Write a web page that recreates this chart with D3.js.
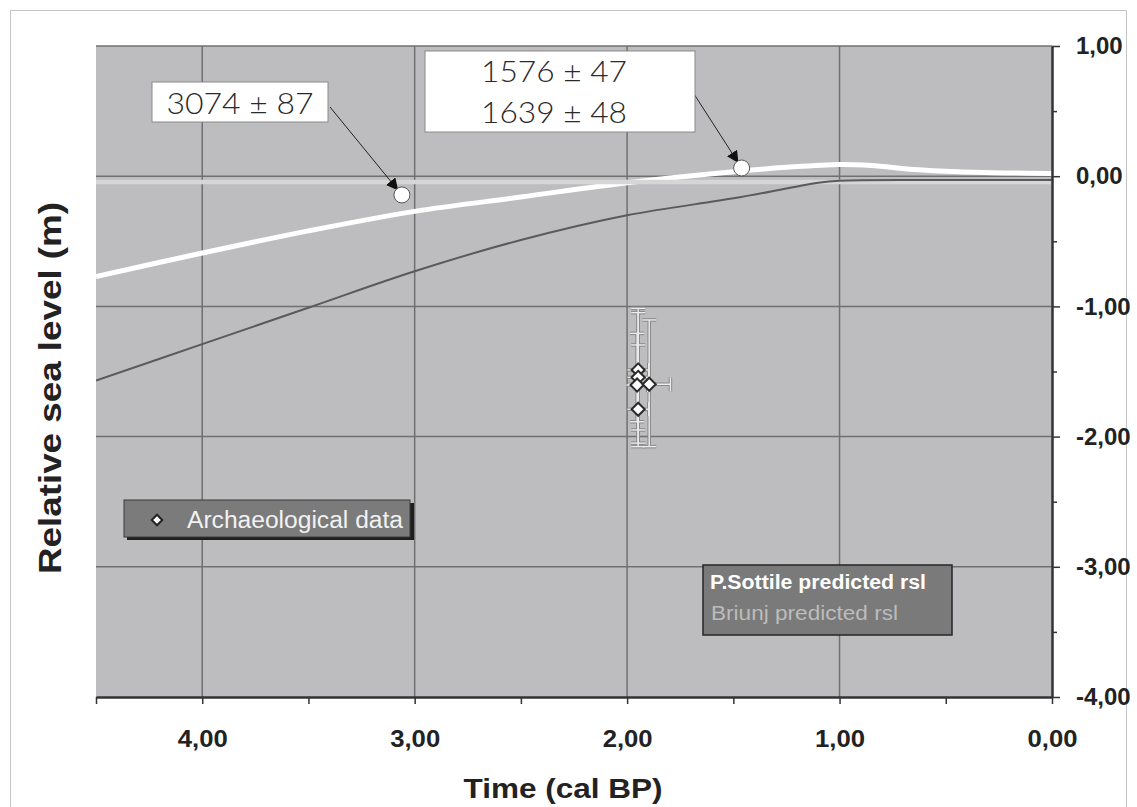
<!DOCTYPE html>
<html>
<head>
<meta charset="utf-8">
<script src="https://cdn.jsdelivr.net/npm/d3@7/dist/d3.min.js"></script>
<style>
  html, body { margin: 0; padding: 0; background: #fff; }
  svg { display: block; }
</style>
</head>
<body>
<svg id="chart" width="1137" height="807"></svg>
<script>
// ---------------- DATA ----------------
const xTickValues = [4, 3, 2, 1, 0];
const xTickLabels = ["4,00", "3,00", "2,00", "1,00", "0,00"];
const xMinorTicks = [4.5, 3.5, 2.5, 1.5, 0.5];
const yTickValues = [1, 0, -1, -2, -3, -4];
const yTickLabels = ["1,00", "0,00", "-1,00", "-2,00", "-3,00", "-4,00"];
const yMinorTicks = [0.5, -0.5, -1.5, -2.5, -3.5];

// P.Sottile predicted rsl (thick white curve)
const sottileTime = [4.5, 4.0, 3.5, 3.0, 2.5, 2.0, 1.5, 1.25, 1.0, 0.85, 0.65, 0.44, 0.2, 0.0];
const sottileLevel = [-0.77, -0.59, -0.42, -0.27, -0.16, -0.05, 0.035, 0.068, 0.09, 0.082, 0.052, 0.035, 0.025, 0.02];

// Briunj predicted rsl (light horizontal line)
const briunjTime = [4.5, 0.0];
const briunjLevel = [-0.045, -0.045];

// thin dark model curve
const modelTime = [4.5, 4.0, 3.5, 3.0, 2.5, 2.0, 1.5, 1.25, 1.1, 1.0, 0.5, 0.0];
const modelLevel = [-1.57, -1.29, -1.01, -0.73, -0.49, -0.30, -0.17, -0.095, -0.05, -0.035, -0.03, -0.03];

// Archaeological data
const archTime = [1.948, 1.948, 1.953, 1.896, 1.948];
const archLevel = [-1.488, -1.545, -1.604, -1.598, -1.79];
const archLevelHigh = [-1.015, -1.048, -1.207, -1.104, -1.296];
const archLevelLow = [-1.949, -2.05, -1.886, -2.077, -2.077];
const archTimeErr = [0.05, 0.05, 0.05, 0.1, 0.05];

// Dated samples (annotation circles)
const datedTime = [3.06, 1.461];
const datedLevel = [-0.144, 0.063];
const datedLabels = [["3074 \u00B1 87"], ["1576 \u00B1 47", "1639 \u00B1 48"]];

const xTitle = "Time (cal BP)";
const yTitle = "Relative sea level (m)";
const legendArch = "Archaeological data";
const legendSottile = "P.Sottile predicted rsl";
const legendBriunj = "Briunj predicted rsl";

// ---------------- LAYOUT ----------------
const svg = d3.select("#chart");
const L = 96, R = 1052, T = 46, B = 697;
const x = d3.scaleLinear().domain([4.5, 0]).range([L, R]);
const y = d3.scaleLinear().domain([-4, 1]).range([B, T]);
const sans = "'Liberation Sans', Arial, sans-serif";
const light = "Lato, 'Open Sans', sans-serif";

// figure border
svg.append("path").attr("d", `M10.5,807 V10.5 H1126.5 V807`)
  .attr("fill", "none").attr("stroke", "#c4c4c4").attr("stroke-width", 1);

svg.append("defs").append("clipPath").attr("id", "clip")
  .append("rect").attr("x", L).attr("y", T).attr("width", R - L).attr("height", B - T);

svg.append("rect").attr("x", L).attr("y", T).attr("width", R - L).attr("height", B - T)
  .attr("fill", "#bdbdbf");

// grid
const grid = svg.append("g");
grid.selectAll("line.v").data(xTickValues.filter(d => d !== 0)).join("line")
  .attr("x1", d => x(d)).attr("x2", d => x(d)).attr("y1", T).attr("y2", B)
  .attr("stroke", "#707070").attr("stroke-width", 1.5);
grid.selectAll("line.h").data(yTickValues.filter(d => d !== -4)).join("line")
  .attr("x1", L).attr("x2", R).attr("y1", d => y(d)).attr("y2", d => y(d))
  .attr("stroke", "#707070").attr("stroke-width", 1.5);

const plot = svg.append("g").attr("clip-path", "url(#clip)");
const line = d3.line().x(d => x(d[0])).y(d => y(d[1])).curve(d3.curveCatmullRom.alpha(0.5));

plot.append("path").datum(d3.zip(sottileTime, sottileLevel)).attr("d", line)
  .attr("fill", "none").attr("stroke", "#ffffff").attr("stroke-width", 5);
plot.append("path").datum(d3.zip(briunjTime, briunjLevel)).attr("d", d3.line().x(d => x(d[0])).y(d => y(d[1])))
  .attr("fill", "none").attr("stroke", "#d6d6d6").attr("stroke-width", 4.5);
plot.append("path").datum(d3.zip(modelTime, modelLevel)).attr("d", line)
  .attr("fill", "none").attr("stroke", "#5a5a5a").attr("stroke-width", 2);

// error bars
const arch = archTime.map((t, i) => ({ t, v: archLevel[i], hi: archLevelHigh[i], lo: archLevelLow[i], xe: archTimeErr[i] }));
const eb = plot.append("g");
[["#8a8a8a", 3.5], ["#ececec", 1.4]].forEach(([col, w]) => {
  const g = eb.append("g").attr("stroke", col).attr("stroke-width", w).attr("fill", "none");
  arch.forEach(d => {
    const cx = x(d.t);
    g.append("line").attr("x1", cx).attr("x2", cx).attr("y1", y(d.hi)).attr("y2", y(d.lo));
    g.append("line").attr("x1", cx - 7).attr("x2", cx + 7).attr("y1", y(d.hi)).attr("y2", y(d.hi));
    g.append("line").attr("x1", cx - 7).attr("x2", cx + 7).attr("y1", y(d.lo)).attr("y2", y(d.lo));
    g.append("line").attr("x1", x(d.t + d.xe)).attr("x2", x(d.t - d.xe)).attr("y1", y(d.v)).attr("y2", y(d.v));
    g.append("line").attr("x1", x(d.t - d.xe)).attr("x2", x(d.t - d.xe)).attr("y1", y(d.v) - 7).attr("y2", y(d.v) + 7);
  });
});
// diamonds
const diamond = d3.symbol().type(d3.symbolDiamond2).size(110);
plot.selectAll("path.arch").data(arch).join("path").attr("class", "arch")
  .attr("d", diamond)
  .attr("transform", d => `translate(${x(d.t)},${y(d.v)})`)
  .attr("fill", "#ffffff").attr("stroke", "#2a2a2a").attr("stroke-width", 2);

// annotations
const defs = svg.select("defs");
defs.append("marker").attr("id", "arrow").attr("viewBox", "0 0 10 10")
  .attr("refX", 9).attr("refY", 5).attr("markerWidth", 12).attr("markerHeight", 12)
  .attr("markerUnits", "userSpaceOnUse").attr("orient", "auto")
  .append("path").attr("d", "M0,0 L10,5 L0,10 z").attr("fill", "#111");

const boxes = [
  { x: 152, y: 82, w: 176, h: 40, ax: 330, ay: 107, tx: 240, lines: [113.5], len: 147 },
  { x: 425, y: 51, w: 270, h: 81, ax: 694, ay: 94, tx: 554, lines: [82, 123], len: 146 }
];
datedTime.forEach((t, i) => {
  const b = boxes[i];
  const cx = x(t), cy = y(datedLevel[i]);
  const dx = cx - b.ax, dy = cy - b.ay, len = Math.hypot(dx, dy);
  svg.append("line").attr("x1", b.ax).attr("y1", b.ay)
    .attr("x2", b.ax + dx * (len - 7) / len).attr("y2", b.ay + dy * (len - 7) / len)
    .attr("stroke", "#222").attr("stroke-width", 1).attr("marker-end", "url(#arrow)");
  svg.append("circle").attr("cx", cx).attr("cy", cy).attr("r", 8)
    .attr("fill", "#ffffff").attr("stroke", "#555").attr("stroke-width", 1);
  svg.append("rect").attr("x", b.x).attr("y", b.y).attr("width", b.w).attr("height", b.h)
    .attr("fill", "#ffffff").attr("stroke", "#8a8a8a").attr("stroke-width", 1);
  datedLabels[i].forEach((s, j) => {
    svg.append("text").attr("x", b.tx).attr("y", b.lines[j]).attr("text-anchor", "middle")
      .attr("font-family", light).attr("font-weight", 300).attr("font-size", 29).attr("fill", "#2a2a2a")
      .attr("textLength", b.len).attr("lengthAdjust", "spacingAndGlyphs").text(s);
  });
});

// legend: archaeological data
svg.append("rect").attr("x", 127).attr("y", 503).attr("width", 287).attr("height", 37).attr("fill", "#1e1e1e");
svg.append("rect").attr("x", 124).attr("y", 500).attr("width", 286).attr("height", 37)
  .attr("fill", "#7b7b7b").attr("stroke", "#3a3a3a").attr("stroke-width", 1);
svg.append("path").attr("d", d3.symbol().type(d3.symbolDiamond2).size(70))
  .attr("transform", "translate(157,520)").attr("fill", "#fff").attr("stroke", "#222").attr("stroke-width", 2);
svg.append("text").attr("x", 187).attr("y", 528).attr("font-family", sans).attr("font-size", 23)
  .attr("fill", "#f2f2f2").attr("textLength", 216).attr("lengthAdjust", "spacingAndGlyphs").text(legendArch);

// legend: predicted rsl
svg.append("rect").attr("x", 703).attr("y", 565).attr("width", 249).attr("height", 70)
  .attr("fill", "#7a7a7a").attr("stroke", "#262626").attr("stroke-width", 1.5);
svg.append("text").attr("x", 710).attr("y", 589).attr("font-family", sans).attr("font-weight", "bold")
  .attr("font-size", 20).attr("fill", "#ffffff").attr("textLength", 216).attr("lengthAdjust", "spacingAndGlyphs").text(legendSottile);
svg.append("text").attr("x", 711).attr("y", 620).attr("font-family", sans)
  .attr("font-size", 20).attr("fill", "#bcbcbc").attr("textLength", 187).attr("lengthAdjust", "spacingAndGlyphs").text(legendBriunj);

// axes
const fmtX = d => xTickLabels[xTickValues.indexOf(d)];
const fmtY = d => yTickLabels[yTickValues.indexOf(d)];

const xAxis = svg.append("g").attr("transform", `translate(0,${B})`)
  .call(d3.axisBottom(x).tickValues(xTickValues).tickFormat(fmtX).tickSize(7).tickSizeOuter(0).tickPadding(26));
const xMinor = svg.append("g").attr("transform", `translate(0,${B})`)
  .call(d3.axisBottom(x).tickValues(xMinorTicks).tickFormat("").tickSize(7).tickSizeOuter(0));
xMinor.select(".domain").remove();

const yAxis = svg.append("g").attr("transform", `translate(${R},0)`)
  .call(d3.axisRight(y).tickValues(yTickValues).tickFormat(fmtY).tickSize(8).tickSizeOuter(0).tickPadding(16));
const yMinor = svg.append("g").attr("transform", `translate(${R},0)`)
  .call(d3.axisRight(y).tickValues(yMinorTicks).tickFormat("").tickSize(5).tickSizeOuter(0));
yMinor.select(".domain").remove();

[xAxis, xMinor, yAxis, yMinor].forEach(g => {
  g.selectAll(".domain").attr("stroke", "#333").attr("stroke-width", 2.5);
  g.selectAll(".tick line").attr("stroke", "#333").attr("stroke-width", 1.5);
});
[xAxis, yAxis].forEach(g => g.selectAll(".tick text")
  .attr("font-family", sans).attr("font-weight", "bold").attr("font-size", 24).attr("fill", "#222"));
xAxis.selectAll(".tick text").attr("textLength", 50).attr("lengthAdjust", "spacingAndGlyphs");

// titles
svg.append("text").attr("x", 563).attr("y", 798).attr("text-anchor", "middle")
  .attr("font-family", sans).attr("font-weight", "bold").attr("font-size", 28).attr("fill", "#222")
  .attr("textLength", 199).attr("lengthAdjust", "spacingAndGlyphs").text(xTitle);
svg.append("text").attr("transform", "translate(61,388) rotate(-90)").attr("text-anchor", "middle")
  .attr("font-family", sans).attr("font-weight", "bold").attr("font-size", 31).attr("fill", "#222")
  .attr("textLength", 372).attr("lengthAdjust", "spacingAndGlyphs").text(yTitle);
</script>
</body>
</html>
